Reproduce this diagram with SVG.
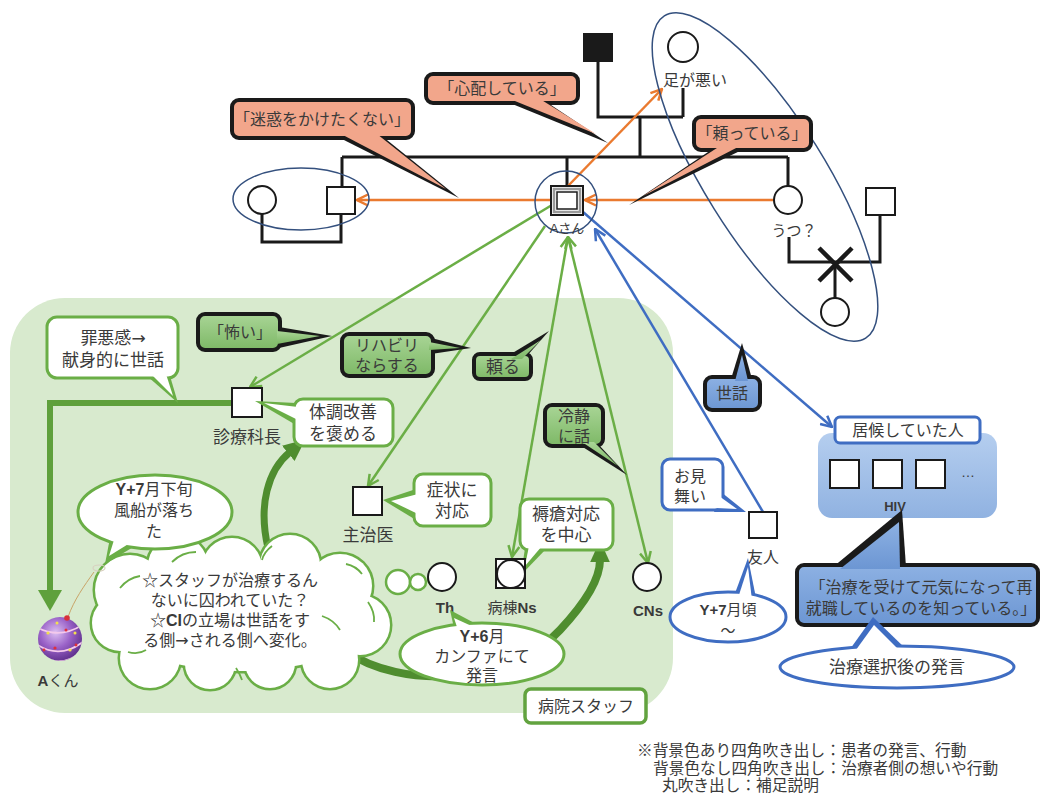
<svg xmlns="http://www.w3.org/2000/svg" width="1043" height="803" viewBox="0 0 1043 803">
<style>
  text{font-family:"Liberation Sans","Noto Sans CJK JP",sans-serif;fill:#3a3a3a;text-anchor:middle;dominant-baseline:central}
  .b{font-weight:bold}
  .ar{font-family:"DejaVu Sans","Noto Sans CJK JP",sans-serif}
  .f13{font-size:13px}.f14{font-size:14px}.f15{font-size:15px}.f16{font-size:16px}.f17{font-size:17px}
  .kin{fill:none;stroke:#1a1a1a;stroke-width:3}
  .sym{fill:#fff;stroke:#1a1a1a;stroke-width:2}
  .ring{fill:none;stroke:#34507e;stroke-width:1.5}
  .lo{fill:none;stroke:#EA7A2F;stroke-width:2.5}
  .lg{fill:none;stroke:#6BAE46;stroke-width:2.5}
  .lb{fill:none;stroke:#3F6DC2;stroke-width:2.5}
  .cO{fill:#F2A68B}.cG{fill:url(#gG)}.cB{fill:url(#gB)}.cW{fill:#fff}
  .kK{fill:#1a1a1a}.kG{fill:#6AAE46}.kU{fill:#3F6DC2}
  .sK{stroke:#1a1a1a;stroke-width:4}
  .sG{stroke:#6AAE46;stroke-width:3}
  .sU{stroke:#3F6DC2;stroke-width:3}
  .leg{font-size:15.7px;text-anchor:start}
</style>
<defs>
  <linearGradient id="gG" x1="0" y1="0" x2="0" y2="1"><stop offset="0" stop-color="#A9D596"/><stop offset="1" stop-color="#7DB866"/></linearGradient>
  <linearGradient id="gB" x1="0" y1="0" x2="0" y2="1"><stop offset="0" stop-color="#8DB1E3"/><stop offset="1" stop-color="#6C96D3"/></linearGradient>
  <linearGradient id="gGrp" x1="0" y1="0" x2="0" y2="1"><stop offset="0" stop-color="#B5CEEF"/><stop offset="1" stop-color="#90B2E1"/></linearGradient>
  <radialGradient id="gBall" cx="0.4" cy="0.35" r="0.7"><stop offset="0" stop-color="#DCC0F2"/><stop offset="0.5" stop-color="#9A62C8"/><stop offset="1" stop-color="#5A2C88"/></radialGradient>
  <clipPath id="ballClip"><circle cx="60" cy="639" r="22"/></clipPath>
  <marker id="arrO" viewBox="0 0 14 14" refX="13" refY="7" markerWidth="14" markerHeight="14" markerUnits="userSpaceOnUse" orient="auto-start-reverse"><path d="M2,1.5 L13,7 L2,12.5" fill="none" stroke="#EA7A2F" stroke-width="2.5"/></marker>
  <marker id="arrG" viewBox="0 0 14 14" refX="13" refY="7" markerWidth="14" markerHeight="14" markerUnits="userSpaceOnUse" orient="auto-start-reverse"><path d="M2,1.5 L13,7 L2,12.5" fill="none" stroke="#6BAE46" stroke-width="2.5"/></marker>
  <marker id="arrB" viewBox="0 0 14 14" refX="13" refY="7" markerWidth="14" markerHeight="14" markerUnits="userSpaceOnUse" orient="auto-start-reverse"><path d="M2,1.5 L13,7 L2,12.5" fill="none" stroke="#3F6DC2" stroke-width="2.5"/></marker>
  <marker id="arrD" viewBox="0 0 20 20" refX="2" refY="10" markerWidth="22" markerHeight="22" markerUnits="userSpaceOnUse" orient="auto"><path d="M0,1 L20,10 L0,19 z" fill="#4F8D2F"/></marker>
  <!-- cloud body: drawn once with an outline, once plain on top -->
  <g id="cloudShape">
    <ellipse cx="241" cy="616" rx="130" ry="55"/>
    <circle cx="130" cy="590" r="35"/><circle cx="178" cy="566" r="30"/><circle cx="232" cy="568" r="30"/>
    <circle cx="290" cy="565" r="30"/><circle cx="340" cy="586" r="32"/><circle cx="360" cy="625" r="30"/>
    <circle cx="330" cy="660" r="28"/><circle cx="270" cy="663" r="25"/><circle cx="210" cy="664" r="25"/>
    <circle cx="150" cy="658" r="30"/><circle cx="120" cy="623" r="28"/>
  </g>
</defs>

<!-- hospital staff area -->
<rect x="10" y="298" width="663" height="415" rx="55" fill="#D8EACE"/>

<!-- connectors -->
<g id="connectors">
  <!-- kinship lines -->
  <path class="kin" d="M598 62 V117 H683 M683 88 V117 M640 117 V157 M342 157 H788 M342 157 V187 M567 157 V186 M788 157 V186"/>
  <path class="kin" d="M262 214 V242 H341 V214"/>
  <path class="kin" d="M789 237 V262 H880 V215 M835 262 V298"/>
  <path d="M819 248 L852 281 M852 248 L819 281" stroke="#1a1a1a" stroke-width="4.5"/>
  <!-- orange: relations with family -->
  <path class="lo" d="M551 200 H357" marker-end="url(#arrO)"/>
  <path class="lo" d="M774 200 H585" marker-end="url(#arrO)"/>
  <path class="lo" d="M568 186 L662 89" marker-end="url(#arrO)"/>
  <!-- green: relations with staff -->
  <path class="lg" d="M552 205 L250 387" marker-end="url(#arrG)"/>
  <path class="lg" d="M545 226 L368 486" marker-end="url(#arrG)"/>
  <path class="lg" d="M568 237 L512 557" marker-start="url(#arrG)" marker-end="url(#arrG)"/>
  <path class="lg" d="M568 237 L648 563" marker-start="url(#arrG)" marker-end="url(#arrG)"/>
  <!-- blue: friends -->
  <path class="lb" d="M763 512 L595 229" marker-end="url(#arrB)"/>
  <path class="lb" d="M583 212 L832 427" marker-end="url(#arrB)"/>
  <!-- head of department to A-kun -->
  <path d="M232 403 H50 V592" fill="none" stroke="#5FA03C" stroke-width="6"/>
  <polygon points="38,590 62,590 50,611" fill="#5FA03C"/>
  <!-- curved change arrows -->
  <path d="M268 548 C258 505 268 470 290 452" fill="none" stroke="#4F8D2F" stroke-width="7" marker-end="url(#arrD)"/>
  <path d="M346 651 C400 690 510 685 560 630 C588 600 600 578 600 560" fill="none" stroke="#4F8D2F" stroke-width="8" marker-end="url(#arrD)"/>
</g>

<!-- family tree -->
<g id="father"><rect x="583" y="33" width="30" height="29" fill="#1a1a1a"/></g>
<g id="mother"><circle class="sym" cx="683" cy="47" r="15"/><text class="f16" x="695" y="80">足が悪い</text></g>
<g id="sibling-couple">
  <ellipse class="ring" cx="301" cy="199" rx="68" ry="31"/>
  <circle class="sym" cx="262" cy="200" r="14"/>
  <rect class="sym" x="327" y="187" width="28" height="27"/>
</g>
<g id="a-san">
  <circle class="ring" cx="566" cy="202" r="31"/>
  <rect x="551" y="186" width="32" height="29" fill="#fff" stroke="#1a1a1a" stroke-width="2"/>
  <rect x="554" y="189" width="26" height="23" fill="none" stroke="#999" stroke-width="2.5"/>
  <rect x="557" y="192" width="20" height="17" fill="#fff" stroke="#1a1a1a" stroke-width="1.5"/>
  <text class="f13" x="567" y="228">Aさん</text>
</g>
<g id="sister"><circle class="sym" cx="788" cy="200" r="14"/><text class="f15" x="794" y="230">うつ？</text></g>
<g id="sister-husband"><rect class="sym" x="866" y="188" width="29" height="27"/></g>
<g id="niece"><circle class="sym" cx="835" cy="312" r="14"/></g>
<ellipse class="ring" cx="765" cy="177" rx="190" ry="60" transform="rotate(58 765 177)"/>

<!-- patient remarks (filled) -->
<g id="c-meiwaku">
  <polygon class="kK" points="336,136 382,136 459,198"/>
  <rect class="cO sK" x="232" y="100" width="181" height="38" rx="7"/>
  <polygon class="cO" points="341,134 377,134 446,189"/>
  <text class="f16" x="322" y="119">「迷惑をかけたくない」</text>
</g>
<g id="c-shinpai">
  <polygon class="kK" points="505,101 545,101 608,143"/>
  <rect class="cO sK" x="426" y="74" width="152" height="29" rx="7"/>
  <polygon class="cO" points="510,99 540,99 596,134"/>
  <text class="f16" x="502" y="88">「心配している」</text>
</g>
<g id="c-tayotte">
  <polygon class="kK" points="714,148 746,148 629,205"/>
  <rect class="cO sK" x="694" y="117" width="117" height="33" rx="7"/>
  <polygon class="cO" points="720,146 740,146 643,196"/>
  <text class="f16" x="752" y="133">「頼っている」</text>
</g>
<g id="c-kowai">
  <polygon class="kK" points="279,327 279,348 332,336"/>
  <rect class="cG sK" x="198" y="314" width="82" height="36" rx="7"/>
  <polygon class="cG" points="277,331 277,344 320,336"/>
  <text class="f16" x="240" y="332">「怖い」</text>
</g>
<g id="c-rehab">
  <polygon class="kK" points="431,338 431,354 471,348"/>
  <rect class="cG sK" x="342" y="334" width="91" height="42" rx="7"/>
  <polygon class="cG" points="429,342 429,350 460,348"/>
  <text class="f16" x="387" y="345">リハビリ<tspan x="387" dy="20">ならする</tspan></text>
</g>
<g id="c-tayoru">
  <polygon class="kK" points="506,357 526,357 549,331"/>
  <rect class="cG sK" x="474" y="354" width="57" height="25" rx="6"/>
  <polygon class="cG" points="511,359 522,359 541,340"/>
  <text class="f17" x="503" y="367">頼る</text>
</g>
<g id="c-reisei">
  <polygon class="kK" points="578,444 598,444 627,475"/>
  <rect class="cG sK" x="545" y="405" width="58" height="41" rx="7"/>
  <polygon class="cG" points="582,442 594,442 618,466"/>
  <text class="f16" x="574" y="416">冷静<tspan x="574" dy="20">に話</tspan></text>
</g>
<g id="c-sewa">
  <polygon class="kK" points="731,379 752,379 742,343"/>
  <rect class="cB sK" x="705" y="377" width="55" height="33" rx="7"/>
  <polygon class="cB" points="735,381 748,381 742,355"/>
  <text class="f16" x="732" y="393">世話</text>
</g>

<!-- staff side thoughts (white) -->
<g id="c-zaiakukan">
  <polygon class="kG" points="147,376 170,376 178,403"/>
  <rect class="cW sG" x="47" y="317" width="131" height="61" rx="10"/>
  <polygon class="cW" points="151,374 166,374 173,396"/>
  <text class="f17" x="113" y="338">罪悪感<tspan class="ar">→</tspan><tspan x="113" dy="22">献身的に世話</tspan></text>
</g>
<g id="dept-head">
  <rect class="sym" x="232" y="388" width="30" height="29"/>
  <text class="f17" x="247" y="437">診療科長</text>
</g>
<g id="c-taichou">
  <polygon class="kG" points="296,403 296,425 255,401"/>
  <rect class="cW sG" x="294" y="399" width="99" height="47" rx="9"/>
  <polygon class="cW" points="298,407 298,420 264,403"/>
  <text class="f17" x="343" y="412">体調改善<tspan x="343" dy="22">を褒める</tspan></text>
</g>
<g id="attending">
  <rect class="sym" x="353" y="487" width="29" height="28"/>
  <text class="f17" x="368" y="535">主治医</text>
</g>
<g id="c-shoujou">
  <polygon class="kG" points="416,489 416,520 383,500"/>
  <rect class="cW sG" x="414" y="474" width="77" height="52" rx="9"/>
  <polygon class="cW" points="418,494 418,514 391,501"/>
  <text class="f17" x="452" y="490">症状に<tspan x="452" dy="21">対応</tspan></text>
</g>
<g id="c-jokusou">
  <polygon class="kG" points="525,548 547,548 521,575"/>
  <rect class="cW sG" x="520" y="499" width="93" height="51" rx="9"/>
  <polygon class="cW" points="529,546 542,546 525,566"/>
  <text class="f17" x="566" y="514">褥瘡対応<tspan x="566" dy="21">を中心</tspan></text>
</g>
<g id="ward-ns">
  <rect class="sym" x="496" y="559" width="29" height="29"/>
  <circle class="sym" cx="511" cy="574" r="14"/>
  <text class="f15" x="512" y="607">病棟<tspan class="b">Ns</tspan></text>
</g>
<g id="cns">
  <circle class="sym" cx="647" cy="577" r="14"/>
  <text class="f15 b" x="648" y="610">CNs</text>
</g>

<!-- reflection cloud -->
<g id="cloud">
  <use href="#cloudShape" fill="#fff" stroke="#6AAE46" stroke-width="5"/>
  <use href="#cloudShape" fill="#fff"/>
  <g fill="none" stroke="#6AAE46" stroke-width="1.8">
    <path d="M120 588 Q128 578 140 576"/>
    <path d="M172 562 Q182 552 196 552"/>
    <path d="M262 560 Q264 552 272 546"/>
    <path d="M346 564 Q356 566 362 574"/>
    <path d="M368 602 Q375 612 374 622"/>
    <path d="M322 616 Q334 620 340 630"/>
    <path d="M128 652 Q138 655 146 650"/>
    <path d="M236 668 Q240 674 242 680"/>
  </g>
  <circle cx="398" cy="582" r="12" fill="#fff" stroke="#6AAE46" stroke-width="2.5"/>
  <circle cx="418" cy="582" r="8" fill="#fff" stroke="#6AAE46" stroke-width="2.5"/>
  <circle cx="432" cy="580" r="4" fill="#fff" stroke="#6AAE46" stroke-width="2"/>
  <text class="f16" x="230" y="580">☆スタッフが治療するん<tspan x="230" dy="20">ないに囚われていた？</tspan><tspan x="230" dy="20">☆<tspan class="b">CI</tspan>の立場は世話をす</tspan><tspan x="230" dy="20">る側<tspan class="ar">→</tspan>される側へ変化。</tspan></text>
</g>
<g id="th">
  <circle class="sym" cx="442" cy="577" r="14"/>
  <text class="f15 b" x="445" y="607">Th</text>
</g>

<!-- supplementary notes (round) -->
<g id="n-balloon-fell">
  <polygon class="kG" points="110,538 135,546 105,564"/>
  <ellipse class="cW sG" cx="155" cy="512" rx="77" ry="37"/>
  <polygon class="cW" points="114,540 130,543 109,556"/>
  <text class="f16" x="154" y="489"><tspan class="b">Y+7</tspan>月下旬<tspan x="154" dy="21">風船が落ち</tspan><tspan x="154" dy="21">た</tspan></text>
</g>
<g id="n-conference">
  <polygon class="kG" points="454,628 480,626 450,610"/>
  <ellipse class="cW sG" cx="482" cy="654" rx="82" ry="31"/>
  <polygon class="cW" points="458,630 476,628 454,618"/>
  <text class="f16" x="482" y="636"><tspan class="b">Y+6</tspan>月<tspan x="482" dy="20">カンファにて</tspan><tspan x="482" dy="19">発言</tspan></text>
</g>
<g id="staff-label">
  <rect x="525" y="689" width="121" height="34" rx="6" fill="#fff" stroke="#62A33F" stroke-width="3.5"/>
  <text class="f16" x="586" y="706">病院スタッフ</text>
</g>

<!-- A-kun (water balloon) -->
<g id="a-kun">
  <path d="M68 617 C74 600 84 586 94 572" fill="none" stroke="#C9A468" stroke-width="1"/>
  <ellipse cx="99" cy="568" rx="6" ry="3" fill="none" stroke="#d8d0c0" stroke-width="1.2"/>
  <circle cx="60" cy="639" r="22" fill="url(#gBall)"/>
  <g clip-path="url(#ballClip)" fill="none" stroke="#F4C9EC" stroke-width="1.8">
    <path d="M36 627 Q60 640 84 624"/>
    <path d="M36 644 Q60 660 84 641"/>
    <path d="M37 654 Q60 670 83 651"/>
  </g>
  <g fill="#F3E04C"><circle cx="48" cy="633" r="1.6"/><circle cx="70" cy="650" r="1.6"/><circle cx="57" cy="623" r="1.5"/><circle cx="75" cy="633" r="1.5"/></g>
  <g fill="#E0303A"><circle cx="55" cy="648" r="1.6"/><circle cx="66" cy="630" r="1.5"/><circle cx="44" cy="650" r="1.4"/><circle cx="76" cy="645" r="1.4"/></g>
  <circle cx="67" cy="618" r="2.8" fill="#D8303A"/>
  <text class="f15" x="58" y="680"><tspan class="b">A</tspan>くん</text>
</g>

<!-- friends -->
<g id="c-omimai">
  <polygon class="kU" points="721,492 714,512 746,512"/>
  <rect class="cW sU" x="662" y="459" width="61" height="51" rx="8"/>
  <polygon class="cW" points="719,496 716,508 737,509"/>
  <text class="f16" x="690" y="476">お見<tspan x="690" dy="20">舞い</tspan></text>
</g>
<g id="friend">
  <rect class="sym" x="749" y="512" width="28" height="26"/>
  <text class="f16" x="763" y="557">友人</text>
</g>
<g id="n-visit">
  <polygon class="kU" points="734,596 756,598 748,558"/>
  <ellipse class="cW sU" cx="728" cy="617" rx="58" ry="25"/>
  <polygon class="cW" points="738,598 752,600 748,567"/>
  <text class="f15" x="728" y="609"><tspan class="b">Y+7</tspan>月頃<tspan x="728" dy="21">〜</tspan></text>
</g>
<g id="lodgers">
  <rect x="818" y="433" width="179" height="85" rx="14" fill="url(#gGrp)"/>
  <rect x="835" y="417" width="145" height="26" rx="5" fill="#fff" stroke="#3F6DC2" stroke-width="3"/>
  <text class="f16" x="908" y="430">居候していた人</text>
  <rect class="sym" x="830" y="460" width="29" height="28"/>
  <rect class="sym" x="873" y="460" width="29" height="28"/>
  <rect class="sym" x="916" y="460" width="29" height="28"/>
  <text class="f14" x="968" y="472">…</text>
  <text class="f13 b" x="895" y="506">HIV</text>
</g>
<g id="c-saishushoku">
  <polygon class="kK" points="833,567 906,567 902,510"/>
  <rect class="cB sK" x="797" y="565" width="241" height="60" rx="7"/>
  <polygon class="cB" points="840,569 900,569 899,522"/>
  <text class="f16" x="921" y="587">「治療を受けて元気になって再<tspan x="921" dy="21">就職しているのを知っている。」</tspan></text>
</g>
<g id="n-after-choice">
  <polygon class="kU" points="848,652 908,651 873,617"/>
  <ellipse class="cW sU" cx="897" cy="667" rx="117" ry="21"/>
  <polygon class="cW" points="853,654 902,653 874,625"/>
  <text class="f17" x="897" y="667">治療選択後の発言</text>
</g>

<!-- legend -->
<g id="legend">
  <text class="leg" x="637" y="750">※背景色あり四角吹き出し：患者の発言、行動<tspan x="653" dy="18">背景色なし四角吹き出し：治療者側の想いや行動</tspan><tspan x="662" dy="17">丸吹き出し：補足説明</tspan></text>
</g>
</svg>
